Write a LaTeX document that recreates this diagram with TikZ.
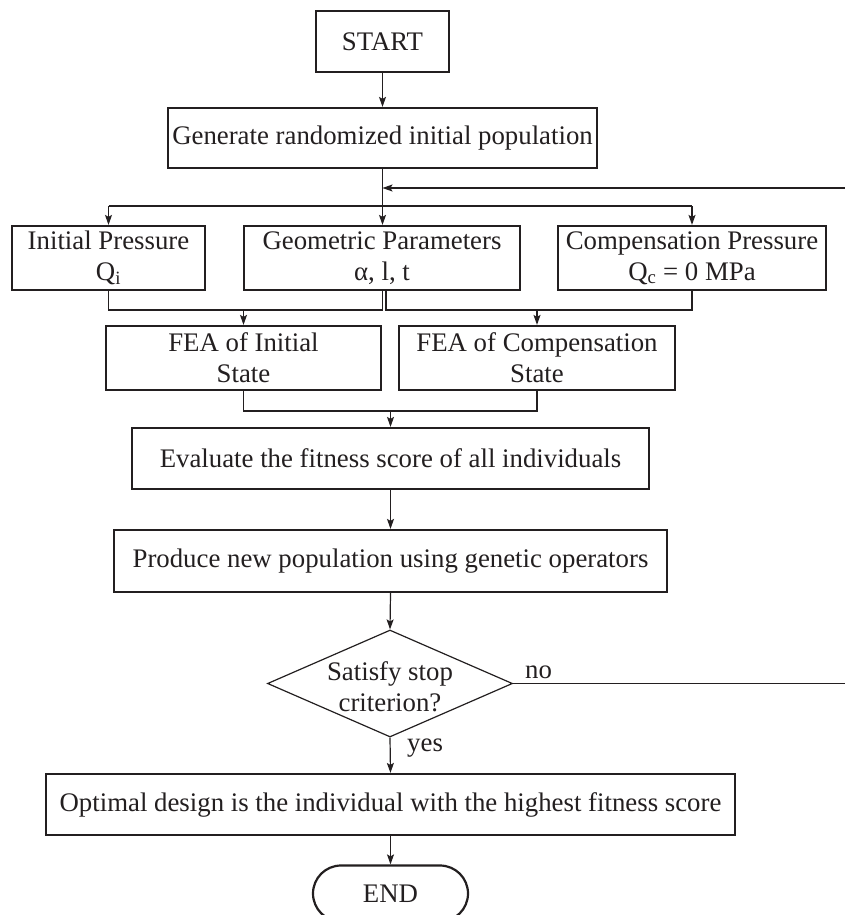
\documentclass[tikz,border=0pt]{standalone}
\usepackage{fontspec}
\setmainfont{Liberation Serif}
\usetikzlibrary{shapes.geometric,shapes.misc,arrows.meta}
\definecolor{ink}{HTML}{231F20}
\begin{document}
\begin{tikzpicture}[x=1pt,y=-1pt,
  font=\fontsize{26.8}{31}\selectfont,
  every node/.style={text=ink},
  procbox/.style={draw=ink, line width=2.2pt, inner sep=0pt, align=center, minimum height=61pt},
  link/.style={draw=ink, line width=1.2pt},
  arr/.style={link, -{Stealth[length=10pt,width=7pt,inset=2pt]}}]
\useasboundingbox (0,0) rectangle (845,915);
\clip (0,0) rectangle (845,915);
\fill[white] (0,0) rectangle (845,915);

% process steps
\node[procbox, minimum width=133pt] (start) at (382.5,41.5) {START};
\node[procbox, minimum width=429pt, minimum height=60pt] (gen) at (382.5,138) {Generate randomized initial population};
\node[procbox, minimum width=193pt, minimum height=64pt] (ip) at (108.5,258) {Initial Pressure\\Q\textsubscript{i}};
\node[procbox, minimum width=276pt, minimum height=64pt] (gp) at (382,258) {Geometric Parameters\\α, l, t};
\node[procbox, minimum width=268pt, minimum height=64pt] (cp) at (692,258) {Compensation Pressure\\Q\textsubscript{c} = 0 MPa};
\node[procbox, minimum width=275pt, minimum height=64pt] (fi) at (243.5,358) {FEA of Initial\\State};
\node[procbox, minimum width=276pt, minimum height=64pt] (fc) at (537,358) {FEA of Compensation\\State};
\node[procbox, minimum width=517pt] (ev) at (390.5,458.5) {Evaluate the fitness score of all individuals};
\node[procbox, minimum width=553pt, minimum height=62pt] (pr) at (390.5,561) {Produce new population using genetic operators};

% decision
\node[draw=ink, line width=1.2pt, diamond, minimum width=245pt, minimum height=107pt, inner sep=0pt] (dia) at (390,683.5) {};
\node[align=center, inner sep=0pt] (crit) at (390,687) {Satisfy stop\\criterion?};
\node[anchor=base west, inner sep=0pt] (nolab) at (525,678) {no};
\node[anchor=base west, inner sep=0pt] (yeslab) at (407,751) {yes};

\node[procbox, minimum width=689pt] (opt) at (390.5,804.5) {Optimal design is the individual with the highest fitness score};
\node[draw=ink, line width=2.2pt, rounded rectangle, minimum width=155pt, minimum height=56pt, inner sep=0pt] (end) at (390.5,893.5) {END};

% junction points
\coordinate (spine) at (382.5,206);
\coordinate (fbin) at (382.5,188);
\coordinate (farR) at (870,188);
\coordinate (lbr) at (382.5,310);
\coordinate (rbl) at (386,310);
\coordinate (jb) at (390.5,411);

% connectors
\draw[arr] (start.south) -- (gen.north);
\draw[arr] (gen.south) -- (gen.south |- gp.north);
\draw[link] (ip.north |- spine) -- (cp.north |- spine);
\draw[arr] (ip.north |- spine) -- (ip.north);
\draw[arr] (cp.north |- spine) -- (cp.north);

\draw[link] (ip.south) |- (lbr) -- (lbr |- gp.south);
\draw[link] (cp.south) |- (rbl) -- (rbl |- gp.south);
\draw[arr] (fi.north |- lbr) -- (fi.north);
\draw[arr] (fc.north |- rbl) -- (fc.north);

\draw[link] (fi.south) |- (jb) -| (fc.south);
\draw[arr] (jb) -- (ev.north);
\draw[arr] (ev.south) -- (pr.north);
\draw[arr] (pr.south) -- (dia.north);
\draw[arr] (dia.south) -- (opt.north);
\draw[arr] (opt.south) -- (end.north);

% loop back when the stop criterion is not met
\draw[arr] (dia.east) -- (dia.east -| farR) -- (farR) -- (fbin);
\end{tikzpicture}
\end{document}
